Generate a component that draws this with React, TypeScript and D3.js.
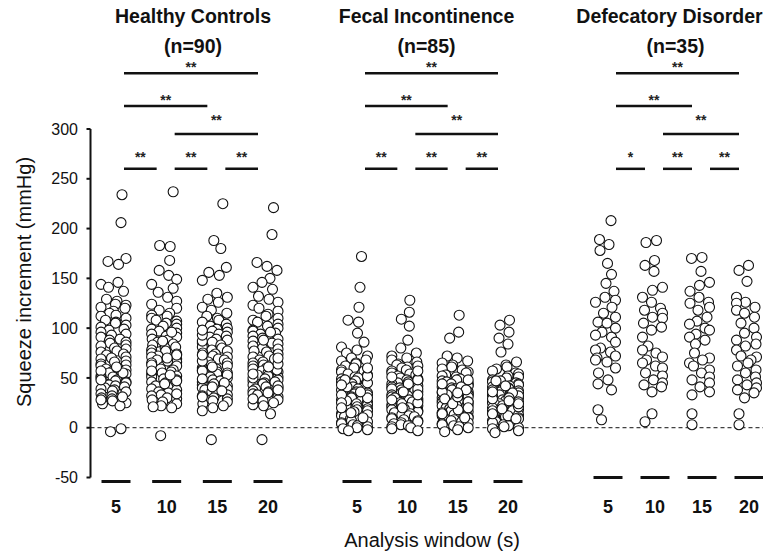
import React, { useMemo } from 'react';
import * as d3 from 'd3';

// ---------- data ----------
const windows = ['5', '10', '15', '20'];
const groupNames = ['Healthy Controls', 'Fecal Incontinence', 'Defecatory Disorder'];
const groupN = ['(n=90)', '(n=85)', '(n=35)'];
const yTicks = [-50, 0, 50, 100, 150, 200, 250, 300];

const hc5 = [234, 206, 170, 167, 164, 146, 144, 141, 137, 129, 127, 124, 123, 121, 120, 117, 115, 113, 112, 110, 108, 106, 105, 103, 101, 99, 98, 96, 94, 93, 91, 89, 88, 86, 85, 83, 82, 80, 79, 77, 76, 74, 73, 71, 70, 69, 67, 66, 64, 63, 62, 60, 59, 58, 56, 55, 54, 52, 51, 50, 48, 47, 46, 44, 43, 42, 40, 39, 38, 37, 35, 34, 32, 30, 29, 27, 25, 24, 22, 55, 61, 45, 41, 36, 31, 28, 57, 48, -1, -4];
const hc10 = [237, 183, 182, 168, 158, 153, 149, 144, 140, 136, 131, 127, 124, 120, 118, 115, 113, 112, 110, 108, 107, 105, 104, 102, 100, 99, 97, 95, 94, 92, 91, 89, 88, 86, 84, 83, 81, 80, 78, 77, 75, 74, 72, 71, 69, 68, 66, 65, 63, 62, 61, 59, 58, 56, 55, 54, 52, 51, 49, 48, 46, 45, 43, 42, 41, 39, 38, 36, 35, 33, 32, 30, 29, 28, 26, 24, 22, 21, 20, 67, 73, 47, 57, 87, 96, 34, 44, 53, 70, -8];
const hc15 = [225, 188, 180, 161, 156, 153, 148, 135, 131, 129, 126, 121, 118, 115, 112, 110, 108, 106, 104, 102, 100, 99, 97, 96, 94, 92, 91, 89, 88, 86, 85, 83, 81, 80, 78, 77, 75, 74, 72, 71, 69, 68, 66, 65, 63, 62, 60, 59, 58, 56, 55, 54, 52, 51, 50, 48, 47, 46, 44, 43, 42, 40, 39, 38, 36, 35, 33, 32, 30, 29, 27, 26, 24, 22, 20, 17, 57, 49, 53, 45, 61, 67, 73, 41, 37, 31, 87, 93, 98, -12];
const hc20 = [221, 194, 166, 162, 158, 150, 146, 141, 139, 132, 129, 126, 123, 120, 117, 114, 112, 110, 108, 106, 104, 102, 100, 98, 97, 95, 94, 92, 90, 89, 87, 85, 84, 82, 80, 79, 77, 76, 74, 72, 71, 69, 68, 66, 65, 63, 62, 60, 59, 57, 56, 55, 53, 52, 51, 49, 48, 47, 45, 44, 43, 41, 40, 39, 37, 36, 34, 33, 31, 30, 28, 27, 25, 23, 22, 14, 50, 54, 58, 46, 42, 38, 64, 70, 35, 29, 61, 96, 88, -12];

const fi5 = [172, 141, 121, 108, 106, 95, 86, 81, 78, 75, 72, 70, 68, 67, 65, 64, 62, 60, 58, 57, 56, 54, 53, 51, 50, 49, 47, 46, 45, 44, 42, 41, 40, 39, 37, 36, 35, 34, 33, 31, 30, 29, 28, 27, 26, 24, 23, 22, 21, 19, 18, 17, 16, 14, 13, 12, 11, 9, 8, 7, 6, 5, 4, 3, 2, 1, 0, -1, -2, -3, 30, 45, 52, 38, 27, 33, 41, 25, 48, 20, 15, 36, 10, 60, 43];
const fi10 = [128, 116, 109, 102, 88, 80, 75, 72, 70, 68, 66, 64, 63, 61, 60, 58, 57, 55, 54, 53, 52, 50, 49, 48, 47, 46, 45, 44, 43, 42, 41, 40, 39, 38, 37, 36, 35, 34, 33, 32, 31, 30, 29, 28, 27, 26, 25, 24, 23, 22, 21, 20, 19, 18, 17, 16, 15, 14, 13, 12, 11, 10, 9, 8, 7, 6, 5, 4, 3, 2, 1, 0, -1, -3, 44, 36, 28, 51, 39, 62, 25, 33, 48, 20, 57];
const fi15 = [113, 96, 90, 72, 70, 67, 65, 63, 61, 59, 58, 56, 55, 53, 52, 51, 49, 48, 47, 46, 45, 44, 43, 42, 41, 40, 39, 38, 37, 36, 35, 34, 33, 32, 31, 30, 29, 28, 27, 26, 25, 24, 23, 22, 21, 20, 19, 18, 17, 16, 15, 14, 13, 12, 11, 10, 9, 8, 7, 6, 5, 4, 3, 2, 1, 0, -2, -4, 33, 27, 41, 22, 18, 36, 29, 44, 24, 14, 38, 31, 48, 26, 10, 35, 20];
const fi20 = [108, 103, 96, 90, 84, 76, 66, 63, 61, 59, 57, 55, 54, 52, 51, 50, 48, 47, 46, 45, 44, 43, 42, 41, 40, 39, 38, 37, 36, 35, 34, 33, 32, 31, 30, 29, 28, 27, 26, 25, 24, 23, 22, 21, 20, 19, 18, 17, 16, 15, 14, 13, 12, 11, 10, 9, 8, 7, 6, 5, 4, 3, 2, 1, 0, -1, -3, -5, 32, 26, 38, 21, 17, 29, 35, 42, 24, 12, 47, 30, 19, 27, 9, 36, 14];

const dd5 = [208, 189, 184, 178, 165, 154, 145, 137, 131, 128, 126, 121, 115, 111, 106, 105, 96, 93, 91, 86, 80, 78, 76, 72, 70, 68, 66, 60, 55, 48, 44, 38, 18, 8, 100];
const dd10 = [188, 186, 168, 163, 157, 141, 138, 131, 126, 120, 118, 115, 111, 110, 105, 101, 98, 91, 82, 78, 75, 71, 68, 65, 62, 60, 55, 52, 48, 45, 43, 41, 36, 14, 6];
const dd15 = [171, 170, 157, 146, 143, 137, 131, 126, 125, 121, 118, 111, 107, 104, 100, 98, 94, 91, 88, 84, 75, 70, 68, 65, 62, 58, 55, 51, 48, 45, 41, 36, 33, 14, 3];
const dd20 = [163, 158, 147, 131, 126, 125, 121, 118, 115, 111, 105, 100, 95, 91, 88, 84, 82, 78, 72, 71, 68, 65, 62, 58, 55, 51, 48, 45, 43, 40, 38, 35, 30, 14, 3];

const groupSeries = [
  [hc5, hc10, hc15, hc20],
  [fi5, fi10, fi15, fi20],
  [dd5, dd10, dd15, dd20],
];

// significance comparisons (window index pairs) and their levels (in mmHg units)
const bracketPairs = [[0, 3], [0, 2], [1, 3], [0, 1], [1, 2], [2, 3]];
const bracketLevels = [356, 323, 295, 260, 260, 260];
const hcStars = ['**', '**', '**', '**', '**', '**'];
const fiStars = ['**', '**', '**', '**', '**', '**'];
const ddStars = ['**', '**', '**', '*', '**', '**'];
const groupStars = [hcStars, fiStars, ddStars];

// ---------- layout ----------
const W = 763;
const H = 554;
const FONT = "Arial, 'Liberation Sans', Helvetica, sans-serif";
const groupRanges: [number, number][] = [[116, 268], [357, 508], [608, 749]];
const groupTitleX = [193, 426.5, 669.5];
const swarmHalf = [12.5, 13, 10];
const tiltMid = [60, 30, 140];
const tiltK = [0.05, 0.05, 0.08];
const axisDashDy = [4, 4, 0];
const labelGap = [1, 1.5, 9, 6.5, 6.5, 6.5];
const R = 5;

function swarm(values: number[], cx: number, half: number, y: (v: number) => number, mid: number, k: number) {
  const n = values.length;
  const placed: { y: number; dx: number }[] = [];
  const res: { x: number; y: number }[] = new Array(n);
  const d2 = 2 * R + 0.5;
  for (let j = 0; j < n; j++) {
    const idx = (j * 37) % n; // placement order (layout only)
    const v = values[idx];
    const py = y(v);
    const pref = Math.max(-half * 0.75, Math.min(half * 0.75, (v - mid) * k));
    let best = 0;
    let bestCost = Infinity;
    for (let dx = -half; dx <= half + 1e-6; dx += 0.5) {
      let cost = 0.06 * Math.abs(dx - pref);
      for (const q of placed) {
        const dy = q.y - py;
        if (Math.abs(dy) >= d2) continue;
        const dist = Math.hypot(q.dx - dx, dy);
        if (dist < d2) cost += d2 - dist;
      }
      if (cost < bestCost) {
        bestCost = cost;
        best = dx;
      }
    }
    placed.push({ y: py, dx: best });
    res[idx] = { x: cx + best, y: py };
  }
  return res;
}

export default function App() {
  const y = d3.scaleLinear().domain([-50, 300]).range([477.5, 129]);
  const xScales = groupRanges.map((r) => d3.scalePoint<string>().domain(windows).range(r));

  const points = useMemo(() => {
    const out: { x: number; y: number; key: string }[] = [];
    groupSeries.forEach((series, gi) => {
      series.forEach((vals, wi) => {
        const cx = (xScales[gi](windows[wi]) as number) - 2.5;
        swarm(vals, cx, swarmHalf[gi], y, tiltMid[gi], tiltK[gi]).forEach((p, i) =>
          out.push({ ...p, key: `${gi}-${wi}-${i}` })
        );
      });
    });
    return out;
  }, []);

  const axisX = 90.5;

  return (
    <svg width={W} height={H} style={{ position: 'absolute', left: 0, top: 0, background: '#fff' }} fontFamily={FONT}>
      <rect width={W} height={H} fill="#fff" />
      {/* zero reference line */}
      <line x1={axisX} x2={W} y1={y(0)} y2={y(0)} stroke="#111" strokeWidth={1} strokeDasharray="4,3" />

      {/* y axis */}
      <line x1={axisX} x2={axisX} y1={y(300)} y2={y(-50)} stroke="#111" strokeWidth={2} />
      {yTicks.map((t) => (
        <g key={t}>
          <line x1={axisX - 4} x2={axisX} y1={y(t)} y2={y(t)} stroke="#111" strokeWidth={2} />
          <text x={78} y={y(t)} dy="0.35em" textAnchor="end" fontSize={16} fill="#111">
            {t}
          </text>
        </g>
      ))}
      <text
        transform={`translate(31, ${282}) rotate(-90)`}
        textAnchor="middle"
        fontSize={20}
        fill="#111"
      >
        Squeeze increment (mmHg)
      </text>

      {/* groups */}
      {groupNames.map((name, gi) => {
        const xs = xScales[gi];
        return (
          <g key={name}>
            <text x={groupTitleX[gi]} y={23} textAnchor="middle" fontSize={19.5} fontWeight="bold" fill="#111">
              {name}
            </text>
            <text x={groupTitleX[gi] + (gi === 2 ? 6 : 0)} y={53} textAnchor="middle" fontSize={19.5} fontWeight="bold" fill="#111">
              {groupN[gi]}
            </text>
            {windows.map((w) => (
              <g key={w}>
                <line
                  x1={(xs(w) as number) - 14.5}
                  x2={(xs(w) as number) + 14.5}
                  y1={y(-50) + axisDashDy[gi]}
                  y2={y(-50) + axisDashDy[gi]}
                  stroke="#111"
                  strokeWidth={3}
                />
                <text x={xs(w)} y={513} textAnchor="middle" fontSize={18} fontWeight="bold" fill="#111">
                  {w}
                </text>
              </g>
            ))}
            {bracketPairs.map(([a, b], bi) => {
              const x1 = (xs(windows[a]) as number) + 8;
              const x2 = (xs(windows[b]) as number) - 10;
              const by = y(bracketLevels[bi]);
              return (
                <g key={bi}>
                  <line x1={x1} x2={x2} y1={by} y2={by} stroke="#111" strokeWidth={2.5} />
                  <text
                    x={(x1 + x2) / 2}
                    y={by - labelGap[bi]}
                    textAnchor="middle"
                    fontSize={14}
                    fontWeight="bold"
                    fill="#222"
                  >
                    {groupStars[gi][bi]}
                  </text>
                </g>
              );
            })}
          </g>
        );
      })}

      {/* points */}
      {points.map((p) => (
        <circle key={p.key} cx={p.x} cy={p.y} r={R} fill="#fff" stroke="#111" strokeWidth={1.1} />
      ))}

      <text x={432} y={547} textAnchor="middle" fontSize={20} fill="#111">
        Analysis window (s)
      </text>
    </svg>
  );
}
